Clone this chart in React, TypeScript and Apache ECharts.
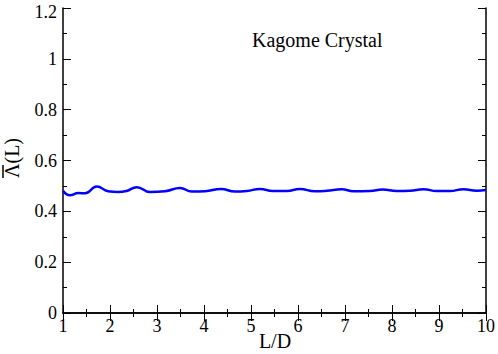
import React, { useEffect, useRef } from "react";
import * as echarts from "echarts";

const lValues = [1.0, 1.15, 1.33, 1.47, 1.72, 1.96, 2.17, 2.35, 2.57, 2.85, 3.17, 3.49, 3.74, 4.02, 4.36, 4.66, 4.91, 5.19, 5.47, 5.76, 6.04, 6.36, 6.61, 6.93, 7.18, 7.53, 7.8, 8.1, 8.38, 8.67, 8.95, 9.23, 9.52, 9.8, 10.0];
const lambdaValues = [0.481, 0.463, 0.472, 0.471, 0.498, 0.479, 0.476, 0.48, 0.495, 0.476, 0.479, 0.492, 0.478, 0.479, 0.488, 0.478, 0.48, 0.488, 0.48, 0.48, 0.488, 0.479, 0.481, 0.487, 0.479, 0.48, 0.486, 0.48, 0.481, 0.487, 0.48, 0.48, 0.487, 0.481, 0.484];
const xTicks = [1, 2, 3, 4, 5, 6, 7, 8, 9, 10];
const yTicks = [0, 0.2, 0.4, 0.6, 0.8, 1, 1.2];
const titleText = "Kagome Crystal";
const xName = "L/D";
const yName = "\u039B(L)";

const FONT = "Liberation Serif";

export default function App() {
  const ref = useRef<HTMLDivElement>(null);
  useEffect(() => {
    if (!ref.current) return;
    const chart = echarts.init(ref.current, null, { renderer: "svg" });
    const axisCommon = {
      axisLine: { show: true, lineStyle: { color: "#000", width: 1.5 } },
      axisTick: { show: true, inside: true, length: 8, lineStyle: { color: "#000", width: 1 } },
      minorTick: { show: true, splitNumber: 2, length: 4, lineStyle: { color: "#000", width: 1 } },
      splitLine: { show: false },
    };
    const yMaxLabel = String(yTicks[yTicks.length - 1]);
    chart.setOption({
      animation: false,
      backgroundColor: "#fff",
      grid: { left: 63, right: 12, top: 8, bottom: 41, containLabel: false, outerBoundsMode: "none" },
      graphic: [
        {
          type: "text",
          left: 252,
          top: 30,
          style: { text: titleText, font: `20px "${FONT}"`, fill: "#000" },
        },
        {
          type: "text",
          x: 57,
          y: 12,
          style: {
            text: yMaxLabel,
            font: `18px "${FONT}"`,
            fill: "#000",
            align: "right",
            verticalAlign: "middle",
          },
        },
        {
          type: "text",
          x: 275,
          y: 341,
          style: {
            text: xName,
            font: `20px "${FONT}"`,
            fill: "#000",
            align: "center",
            verticalAlign: "middle",
          },
        },
        {
          type: "text",
          x: 12,
          y: 158,
          rotation: Math.PI / 2,
          style: {
            text: yName,
            font: `20px "${FONT}"`,
            fill: "#000",
            align: "center",
            verticalAlign: "middle",
          },
        },
        {
          type: "line",
          shape: { x1: 3, y1: 165, x2: 3, y2: 178 },
          style: { stroke: "#000", lineWidth: 1.5 },
        },
      ],
      xAxis: [
        {
          type: "value",
          min: xTicks[0],
          max: xTicks[xTicks.length - 1],
          interval: 1,
          ...axisCommon,
          axisLabel: { color: "#000", fontFamily: FONT, fontSize: 18, margin: 4 },
        },
        {
          type: "value",
          position: "top",
          min: xTicks[0],
          max: xTicks[xTicks.length - 1],
          interval: 1,
          ...axisCommon,
          axisLabel: { show: false },
        },
      ],
      yAxis: [
        {
          type: "value",
          min: yTicks[0],
          max: yTicks[yTicks.length - 1],
          interval: 0.2,
          ...axisCommon,
          axisLabel: {
            color: "#000",
            fontFamily: FONT,
            fontSize: 18,
            margin: 6,
            padding: [4, 0, 0, 0],
            showMaxLabel: false,
            formatter: (v: number) => String(Math.round(v * 10) / 10),
          },
        },
        {
          type: "value",
          position: "right",
          min: yTicks[0],
          max: yTicks[yTicks.length - 1],
          interval: 0.2,
          ...axisCommon,
          axisLabel: { show: false },
        },
      ],
      series: [
        {
          type: "line",
          data: lValues.map((x, i) => [x, lambdaValues[i]]),
          smooth: 0.5,
          showSymbol: false,
          lineStyle: { color: "#0000ff", width: 2.5 },
        },
      ],
    });
    return () => chart.dispose();
  }, []);
  return <div ref={ref} style={{ width: 498, height: 354, position: "absolute", left: 0, top: 0 }} />;
}
